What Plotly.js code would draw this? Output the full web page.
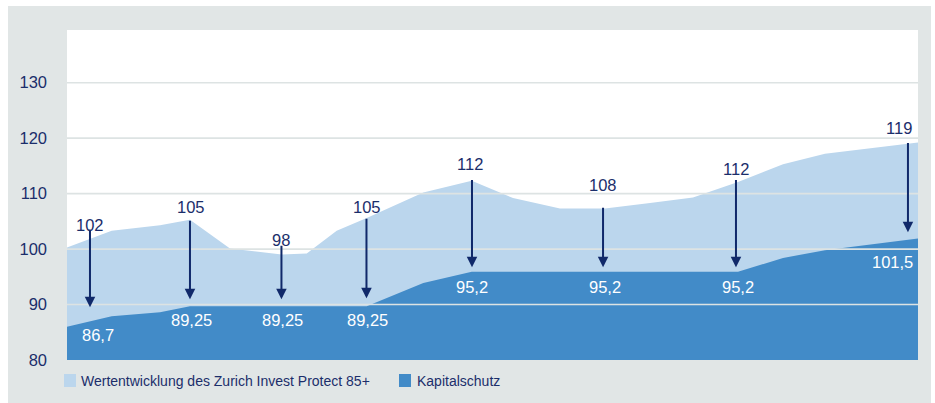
<!DOCTYPE html>
<html>
<head>
<meta charset="utf-8">
<script src="https://cdn.plot.ly/plotly-3.0.1.min.js"></script>
<style>
html,body{margin:0;padding:0;background:#ffffff;width:935px;height:403px;overflow:hidden;}
#chart{position:absolute;left:8px;top:6px;width:923px;height:397px;}
</style>
</head>
<body>
<div id="chart"></div>
<script>
// ---- data ----
// time position along the period (0 = start, 100 = end)
var zeit = [0, 5.25, 10.93, 14.45, 19.15, 25.23, 28.17, 31.69, 35.22, 41.87, 47.56, 52.41, 57.93, 63.22, 68.51, 73.56, 78.85, 84.14, 89.07, 100];
// Wertentwicklung des Zurich Invest Protect 85+
var wertentwicklung = [100.3, 103.3, 104.3, 105.3, 100.1, 99.0, 99.2, 103.3, 105.6, 110.2, 112.3, 109.2, 107.3, 107.3, 108.3, 109.3, 112.1, 115.3, 117.2, 119.2];
// Kapitalschutz
var kapitalschutz = [86.0, 87.9, 88.6, 89.7, 89.7, 89.7, 89.7, 89.7, 89.7, 93.9, 95.9, 95.9, 95.9, 95.9, 95.9, 95.9, 95.9, 98.4, 99.8, 101.9];

// value call-outs (Wertentwicklung -> Kapitalschutz lock-in)
var calloutX      = [2.70, 14.45, 25.20, 35.19, 47.59, 62.99, 78.61, 98.82];
var calloutWert   = ["102", "105", "98", "105", "112", "108", "112", "119"];
var calloutSchutz = ["86,7", "89,25", "89,25", "89,25", "95,2", "95,2", "95,2", "101,5"];
var arrowFrom     = [103.74, 105.36, 100.86, 105.72, 112.73, 107.70, 112.73, 119.39];
var arrowTo       = [89.53, 90.97, 90.97, 91.15, 96.73, 96.73, 96.73, 103.02];
var wertLabelX    = [2.68, 14.62, 25.17, 35.26, 47.32, 62.98, 78.59, 97.73];
var wertLabelY    = [104.28, 107.52, 101.58, 107.52, 115.34, 111.47, 114.46, 121.91];
var schutzLabelX  = [3.64, 14.59, 25.29, 35.35, 47.56, 63.22, 78.81, 97.06];
var schutzLabelY  = [84.55, 87.3, 87.3, 87.3, 93.13, 93.13, 93.13, 97.68];

var yTicks = [80, 90, 100, 110, 120, 130];
var legendNames = ["Wertentwicklung des Zurich Invest Protect 85+", "Kapitalschutz"];

// ---- styles ----
var FONT = "'Liberation Sans', Arial, sans-serif";
var NAVY = "#1b2e6b";
var ARROW = "#10296a";
var LIGHT = "#bbd6ed";
var DARK = "#428bc8";
var GRID = "#dde3e3";

var traces = [
  {x: zeit, y: wertentwicklung, type: "scatter", mode: "lines", name: legendNames[0],
   fill: "tozeroy", fillcolor: LIGHT, line: {width: 0, color: LIGHT}, hoverinfo: "skip", showlegend: false},
  {x: zeit, y: kapitalschutz, type: "scatter", mode: "lines", name: legendNames[1],
   fill: "tozeroy", fillcolor: DARK, line: {width: 0, color: DARK}, hoverinfo: "skip", showlegend: false}
];

var shapes = [];
yTicks.forEach(function (v) {
  if (v === 80) return;
  shapes.push({type: "line", xref: "paper", yref: "y", x0: 0, x1: 1, y0: v, y1: v,
               line: {color: GRID, width: 1.6}, layer: "above"});
});
// legend swatches
shapes.push({type: "rect", xref: "paper", yref: "paper", x0: -0.0035, x1: 0.0106, y0: -0.0818, y1: -0.0424,
             fillcolor: LIGHT, line: {width: 0}, layer: "above"});
shapes.push({type: "rect", xref: "paper", yref: "paper", x0: 0.3901, x1: 0.4042, y0: -0.0818, y1: -0.0424,
             fillcolor: DARK, line: {width: 0}, layer: "above"});

var annotations = [];
for (var i = 0; i < calloutX.length; i++) {
  annotations.push({x: calloutX[i], y: arrowTo[i], xref: "x", yref: "y",
    ax: calloutX[i], ay: arrowFrom[i], axref: "x", ayref: "y",
    text: "", showarrow: true, arrowhead: 2, arrowsize: 1.05, arrowwidth: 2, arrowcolor: ARROW, standoff: 0, startstandoff: 0});
  annotations.push({x: wertLabelX[i], y: wertLabelY[i], xref: "x", yref: "y", text: calloutWert[i],
    showarrow: false, xanchor: "center", yanchor: "middle", font: {family: FONT, size: 16.5, color: NAVY}});
  annotations.push({x: schutzLabelX[i], y: schutzLabelY[i], xref: "x", yref: "y", text: calloutSchutz[i],
    showarrow: false, xanchor: "center", yanchor: "middle", font: {family: FONT, size: 16.5, color: "#ffffff"}});
}
annotations.push({x: 0.0141, y: -0.0636, xref: "paper", yref: "paper", text: legendNames[0], showarrow: false,
  xanchor: "left", yanchor: "middle", font: {family: FONT, size: 14, color: NAVY}});
annotations.push({x: 0.4089, y: -0.0636, xref: "paper", yref: "paper", text: legendNames[1], showarrow: false,
  xanchor: "left", yanchor: "middle", font: {family: FONT, size: 14, color: NAVY}});

var layout = {
  width: 923, height: 397,
  margin: {l: 59, r: 13, t: 24, b: 43, pad: 0},
  paper_bgcolor: "#e1e6e6",
  plot_bgcolor: "#ffffff",
  showlegend: false,
  xaxis: {range: [0, 100], showgrid: false, zeroline: false, showticklabels: false, ticks: "", showline: false, fixedrange: true},
  yaxis: {range: [80, 139.5], tickvals: yTicks, ticktext: yTicks.map(String), showgrid: false, zeroline: false,
          ticks: "", showline: false, ticklabelstandoff: 19, ticklabelshift: 9.5,
          tickfont: {family: FONT, size: 16.5, color: NAVY}, fixedrange: true},
  shapes: shapes,
  annotations: annotations,
  font: {family: FONT, color: NAVY}
};

Plotly.newPlot("chart", traces, layout, {displayModeBar: false, staticPlot: true});
</script>
</body>
</html>
